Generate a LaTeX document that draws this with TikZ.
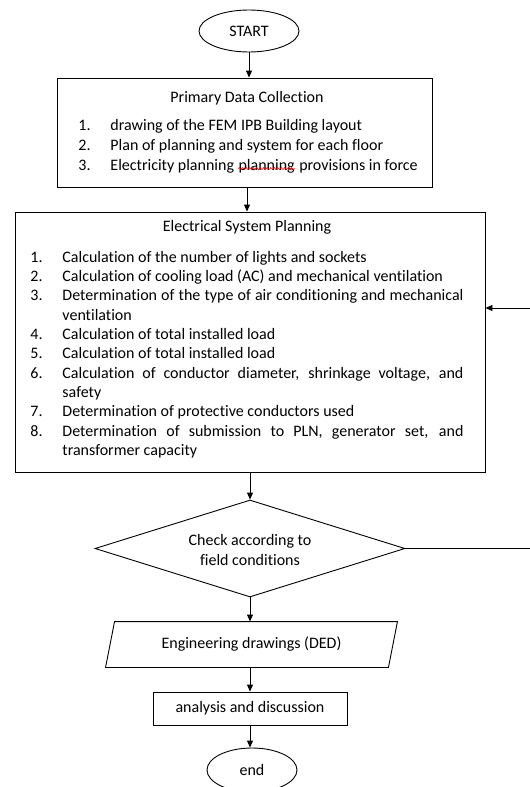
\documentclass[tikz,border=0pt]{standalone}
\usepackage{fontspec}
\setmainfont{Carlito}[RawFeature=-liga]
\usetikzlibrary{arrows.meta,shapes.geometric,decorations.pathmorphing}
\begin{document}
\begin{tikzpicture}[x=1pt,y=-1pt,
  line width=0.9pt,
  box/.style={draw,rectangle,inner sep=0pt},
  ell/.style={draw,ellipse,inner sep=0pt,font=\fontsize{16}{18}\selectfont},
  txt/.style={font=\fontsize{16}{18}\selectfont,inner sep=0pt},
  arr/.style={-{Triangle[length=7pt,width=6pt]}},
  squig/.style={draw=red,line width=0.6pt,decorate,decoration={snake,amplitude=1pt,segment length=3.5pt}},
]
\useasboundingbox (0,0) rectangle (530,787);
% terminals
\node[ell,minimum width=100pt,minimum height=42pt] (start) at (249,31) {START};
\node[ell,minimum width=90pt,minimum height=44pt] (endn) at (252,770) {end};
% primary data collection
\node[box,minimum width=375pt,minimum height=109pt] (prim) at (244.5,132.5) {};
\node[txt] (pt) at (247,98) {Primary Data Collection};
\node[txt,anchor=mid west] (pn1) at (78,128) {1.};
\node[txt,anchor=mid west] (pn2) at (78,148) {2.};
\node[txt,anchor=mid west] (pn3) at (78,168) {3.};
\node[txt,anchor=mid west] (p1) at (110,128) {drawing of the FEM IPB Building layout};
\node[txt,anchor=mid west] (p2) at (110,148) {Plan of planning and system for each floor};
\node[txt,anchor=mid west] (p3a) at (110,168) {Electricity planning};
\node[txt,anchor=base west] (p3b) at ([xshift=3.6pt]p3a.base east) {planning};
\node[txt,anchor=base west] (p3c) at ([xshift=3.6pt]p3b.base east) {provisions in force};
\draw[squig] ([yshift=1.8pt]p3b.base west) -- ([yshift=1.8pt]p3b.base east);
% electrical system planning
\node[box,minimum width=470pt,minimum height=260pt] (elec) at (250,342) {};
\node[txt] (et) at (247,227) {Electrical System Planning};
\node[txt,anchor=mid west] (en1) at (30,260) {1.};
\node[txt,anchor=mid west] (en2) at (30,279.3) {2.};
\node[txt,anchor=mid west] (en3) at (30,298.6) {3.};
\node[txt,anchor=mid west] (en4) at (30,337.2) {4.};
\node[txt,anchor=mid west] (en5) at (30,356.5) {5.};
\node[txt,anchor=mid west] (en6) at (30,375.8) {6.};
\node[txt,anchor=mid west] (en7) at (30,414.4) {7.};
\node[txt,anchor=mid west] (en8) at (30,433.7) {8.};
\node[txt,anchor=mid west] (e1) at (62,260) {Calculation of the number of lights and sockets};
\node[txt,anchor=mid west] (e2) at (62,279.3) {Calculation of cooling load (AC) and mechanical ventilation};
\node[txt,anchor=mid west] (e3) at (62,298.6) {\makebox[401pt][s]{Determination of the type of air conditioning and mechanical}};
\node[txt,anchor=mid west] (e3b) at (62,317.9) {ventilation};
\node[txt,anchor=mid west] (e4) at (62,337.2) {Calculation of total installed load};
\node[txt,anchor=mid west] (e5) at (62,356.5) {Calculation of total installed load};
\node[txt,anchor=mid west] (e6) at (62,375.8) {\makebox[401pt][s]{Calculation of conductor diameter, shrinkage voltage, and}};
\node[txt,anchor=mid west] (e6b) at (62,395.1) {safety};
\node[txt,anchor=mid west] (e7) at (62,414.4) {Determination of protective conductors used};
\node[txt,anchor=mid west] (e8) at (62,433.7) {\makebox[401pt][s]{Determination of submission to PLN, generator set, and}};
\node[txt,anchor=mid west] (e8b) at (62,453) {transformer capacity};
% decision
\node[draw,diamond,inner sep=0pt,minimum width=310pt,minimum height=97pt] (check) at (250,548.5) {};
\node[txt,align=center] (ct) at (250,550) {Check according to\\[2pt]field conditions};
% engineering drawings
\node[txt,minimum width=282pt,minimum height=45pt] (eng) at (251.5,644.5) {Engineering drawings (DED)};
\draw ([xshift=4.5pt]eng.north west) -- ([xshift=4.5pt]eng.north east)
   -- ([xshift=-4.5pt]eng.south east) -- ([xshift=-4.5pt]eng.south west) -- cycle;
% analysis
\node[box,txt,draw,minimum width=194pt,minimum height=33pt] (ana) at (250,708.5) {analysis and discussion};
% connectors
\draw[arr] (start) -- (start |- prim.north);
\draw[arr] (prim.south -| 247,0) -- (247,0 |- elec.north);
\draw[arr] (elec.south -| check.north) -- (check.north);
\draw[arr] (check.south) -- (check.south |- eng.north);
\draw[arr] (eng.south -| ana.north) -- (ana.north);
\draw[arr] (ana.south) -- (ana.south |- endn.north);
\coordinate (fbR) at (530,548.5);
\coordinate (fbT) at (530,308);
\draw[arr] (check.east) -- (fbR) -- (fbT) -- (fbT -| elec.east);
\end{tikzpicture}
\end{document}
